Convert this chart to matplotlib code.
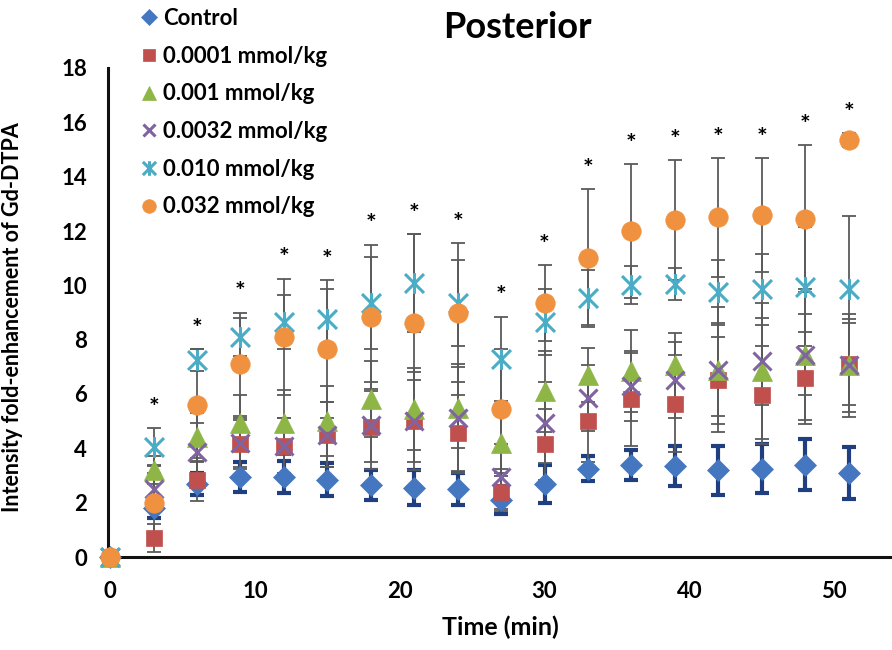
import matplotlib
matplotlib.use("Agg")
import matplotlib.pyplot as plt
import numpy as np
from matplotlib.path import Path

plt.rcParams['font.family'] = ['Lato', 'DejaVu Sans']
plt.rcParams['font.weight'] = 'bold'

time = [0, 3, 6, 9, 12, 15, 18, 21, 24, 27, 30, 33, 36, 39, 42, 45, 48, 51]

labels = ["Control", "0.0001 mmol/kg", "0.001 mmol/kg", "0.0032 mmol/kg",
          "0.010 mmol/kg", "0.032 mmol/kg"]

control = [0, 1.8, 2.7, 2.95, 2.95, 2.85, 2.65, 2.55, 2.5, 2.1, 2.7, 3.25, 3.4, 3.35, 3.2, 3.25, 3.4, 3.1]
d0001 = [0, 0.7, 2.85, 4.15, 4.1, 4.5, 4.8, 5.0, 4.55, 2.4, 4.15, 5.0, 5.8, 5.65, 6.5, 5.95, 6.6, 7.1]
d001 = [0, 3.2, 4.4, 4.95, 4.95, 5.0, 5.8, 5.45, 5.5, 4.2, 6.1, 6.7, 6.85, 7.05, 6.9, 6.85, 7.45, 7.05]
d0032 = [0, 2.5, 3.85, 4.2, 4.1, 4.5, 4.85, 5.0, 5.1, 2.95, 4.95, 5.85, 6.3, 6.5, 6.9, 7.2, 7.45, 7.05]
d010 = [0, 4.05, 7.25, 8.1, 8.65, 8.75, 9.35, 10.1, 9.35, 7.3, 8.65, 9.55, 10.0, 10.05, 9.75, 9.85, 9.95, 9.85]
d032 = [0, 2.0, 5.6, 7.1, 8.1, 7.65, 8.85, 8.6, 9.0, 5.45, 9.35, 11.0, 12.0, 12.4, 12.5, 12.6, 12.45, 15.35]

control_err = [0, 0.35, 0.4, 0.55, 0.6, 0.6, 0.55, 0.65, 0.6, 0.5, 0.7, 0.45, 0.55, 0.75, 0.9, 0.9, 0.95, 0.95]
d0001_err = [0, 0.5, 0.8, 0.9, 1.0, 1.2, 1.3, 1.5, 1.4, 0.7, 1.3, 1.5, 1.7, 1.8, 1.6, 1.8, 1.7, 1.5]
d001_err = [0, 0.5, 0.9, 1.0, 1.2, 1.3, 1.4, 1.5, 1.5, 1.2, 1.5, 1.0, 1.5, 1.2, 2.3, 2.5, 2.4, 1.7]
d0032_err = [0, 0.6, 1.1, 0.9, 1.0, 1.2, 1.6, 1.8, 2.0, 1.2, 1.5, 1.2, 1.3, 1.4, 1.7, 1.6, 1.5, 1.9]
d010_err = [0, 0.7, 0.4, 0.7, 1.0, 1.1, 1.7, 1.8, 1.6, 1.55, 1.2, 1.0, 0.7, 0.6, 1.2, 1.3, 2.2, 2.7]
d032_err = [0, 1.4, 2.05, 1.9, 2.15, 2.55, 2.65, 3.3, 2.55, 2.2, 1.4, 2.55, 2.45, 2.2, 2.2, 2.1, 2.7, 0.25]

significant = [False] + [True] * 17

series = [control, d0001, d001, d0032, d010, d032]
errors = [control_err, d0001_err, d001_err, d0032_err, d010_err, d032_err]

# asterisk marker: X with vertical stroke
star_path = Path([(-1, -1), (1, 1), (-1, 1), (1, -1), (0, -1.1), (0, 1.1)],
                 [Path.MOVETO, Path.LINETO, Path.MOVETO, Path.LINETO, Path.MOVETO, Path.LINETO])

colors = ['#4577C0', '#C0504D', '#8DB646', '#8064A2', '#4BACC6', '#F0913F']
markers = ['D', 's', '^', 'x', star_path, 'o']
msizes = [11, 12, 14, 13, 15, 14]
ecolors = ['#1F3F80', '#5a5a5a', '#5a5a5a', '#5a5a5a', '#5a5a5a', '#5a5a5a']
elw = [3.0, 1.3, 1.3, 1.3, 1.3, 1.3]

fig = plt.figure(figsize=(8.92, 6.5), dpi=100)
ax = fig.add_axes([108 / 892, 1 - 557 / 650, 1 - 108 / 892, (557 - 68) / 650])

handles = []
for i, (vals, err) in enumerate(zip(series, errors)):
    ax.errorbar(time, vals, yerr=err, fmt='none', ecolor=ecolors[i], elinewidth=elw[i],
                capsize=5, capthick=elw[i], zorder=2 + i * 0.01)
for i, vals in enumerate(series):
    mk = markers[i]
    kw = dict(marker=mk, linestyle='none', markersize=msizes[i], color=colors[i],
              zorder=4 + i * 0.1, clip_on=False)
    if i in (3, 4):
        kw.update(markerfacecolor='none', markeredgewidth=2.2, markeredgecolor=colors[i])
    else:
        kw.update(markeredgewidth=0.5, markeredgecolor=colors[i])
    h, = ax.plot(time, vals, label=labels[i], **kw)
    handles.append(h)

# significance stars above highest error bar
tops = np.max(np.array(series) + np.array(errors), axis=0)
for t, top, sig in zip(time, tops, significant):
    if sig:
        ax.text(t, top + 0.3, '*', ha='center', va='bottom', fontsize=18,
                fontweight='bold', color='black')

ax.set_xlim(-0.15, 54)
ax.set_ylim(0, 18)
ax.set_xticks([0, 10, 20, 30, 40, 50])
ax.set_yticks(range(0, 19, 2))
ax.tick_params(axis='both', length=0, labelsize=16)
ax.tick_params(axis='y', pad=15)
ax.tick_params(axis='x', pad=17)
for lab in ax.get_xticklabels() + ax.get_yticklabels():
    lab.set_fontweight('bold')
for s in ['top', 'right']:
    ax.spines[s].set_visible(False)
for s in ['left', 'bottom']:
    ax.spines[s].set_linewidth(2.2)
    ax.spines[s].set_color('#111111')

ax.set_xlabel('Time (min)', fontsize=18, fontweight='bold', labelpad=10)
ax.set_ylabel('Intensity fold-enhancement of Gd-DTPA', fontsize=15.5, fontweight='bold', labelpad=20)
ax.yaxis.set_label_coords(-0.108, 0.49)

fig.text(517 / 892, 1 - 27 / 650, 'Posterior', ha='center', va='center', fontsize=26, fontweight='bold')

leg = fig.legend(handles=handles, loc='upper left', bbox_to_anchor=(140 / 892, 1 - 8 / 650),
                 frameon=False, fontsize=16, labelspacing=0.75, handlelength=0.8,
                 handletextpad=0.25, borderpad=0, borderaxespad=0, markerscale=0.7)
for t in leg.get_texts():
    t.set_fontweight('bold')

fig.savefig('out.png', dpi=100)
